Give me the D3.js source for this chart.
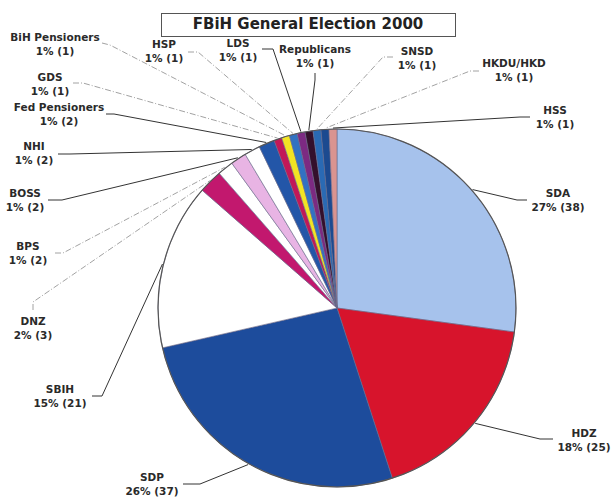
<!DOCTYPE html>
<html><head><meta charset="utf-8">
<script src="https://cdn.jsdelivr.net/npm/d3@7"></script>
<style>body{margin:0;background:#fff}svg{display:block}</style>
</head><body>
<script>
// ---- data ----
const parties = ["SDA","HDZ","SDP","SBIH","DNZ","BPS","BOSS","NHI","Fed Pensioners","GDS","BiH Pensioners","HSP","LDS","Republicans","SNSD","HKDU/HKD","HSS"];
const seats   = [38,25,37,21,3,2,2,2,2,1,1,1,1,1,1,1,1];
const pctLabels = ["27%","18%","26%","15%","2%","1%","1%","1%","1%","1%","1%","1%","1%","1%","1%","1%","1%"];
const colors  = ["#a6c2ec","#d7142c","#1d4c9c","#ffffff","#c2186e","#ffffff","#e8b4e4","#ffffff","#2356a8","#c21858","#f2e424","#3272c2","#7c2a82","#34102c","#2a6ab4","#1c4a90","#da9490"];
const title = "FBiH General Election 2000";

// ---- label layout (text centre x, first line centre y, leader stub start & end) ----
const labelLayout = [
  {tx:558, ty:193, s:[527,200], e:[517,200], faint:false},
  {tx:584, ty:433, s:[553,439], e:[540,439], faint:false},
  {tx:152, ty:477, s:[183,484], e:[200,484], faint:false},
  {tx:60,  ty:389, s:[92,396],  e:[102,396], faint:false},
  {tx:33,  ty:321, s:[33,310],  e:[33,302],  faint:true},
  {tx:28,  ty:246, s:[55,253],  e:[63,253],  faint:true},
  {tx:25,  ty:193, s:[48,200],  e:[62,200],  faint:false},
  {tx:34,  ty:146, s:[58,154],  e:[70,154],  faint:false},
  {tx:59,  ty:107, s:[106,114], e:[114,114], faint:false},
  {tx:50,  ty:77,  s:[73,83],   e:[83,83],   faint:true},
  {tx:55,  ty:37,  s:[102,43],  e:[110,45],  faint:true},
  {tx:164, ty:44,  s:[188,52],  e:[198,52],  faint:true},
  {tx:238, ty:43,  s:[262,49],  e:[273,49],  faint:false},
  {tx:315, ty:49,  s:[315,73],  e:[315,80],  faint:false},
  {tx:417, ty:51,  s:[393,57],  e:[383,57],  faint:true},
  {tx:514, ty:63,  s:[479,71],  e:[470,71],  faint:true},
  {tx:555, ty:110, s:[530,117], e:[520,117], faint:false}
];

const W = 616, H = 498;
const cx = 337, cy = 308, R = 179;
const font = "'DejaVu Sans', Verdana, sans-serif";

const svg = d3.select("body").append("svg").attr("width", W).attr("height", H);

// title box
svg.append("rect").attr("x",161.5).attr("y",13.5).attr("width",294).attr("height",23)
  .attr("fill","#fff").attr("stroke","#555").attr("stroke-width",1);
svg.append("text").attr("x",308).attr("y",29).attr("text-anchor","middle")
  .attr("font-family",font).attr("font-weight","bold").attr("font-size",15)
  .attr("fill","#222").text(title);

const data = parties.map((p,i)=>({party:p, seats:seats[i], pct:pctLabels[i], color:colors[i], lay:labelLayout[i]}));
const pie = d3.pie().value(d=>d.seats).sort(null).startAngle(0).endAngle(2*Math.PI);
const arcs = pie(data);
const arc = d3.arc().innerRadius(0).outerRadius(R);
const edgeArc = d3.arc().innerRadius(R+1).outerRadius(R+1);

const g = svg.append("g").attr("transform",`translate(${cx},${cy})`);
g.selectAll("path.slice").data(arcs).join("path").attr("class","slice")
  .attr("d",arc).attr("fill",d=>d.data.color)
  .attr("stroke","#6a6a8a").attr("stroke-width",0.6);
g.append("circle").attr("r",R).attr("fill","none").attr("stroke","#555").attr("stroke-width",1.2);

// leader lines
const line = d3.line();
svg.selectAll("path.leader").data(arcs).join("path").attr("class","leader")
  .attr("d",d=>{
    const c = edgeArc.centroid(d);
    const L = d.data.lay;
    return line([L.s, L.e, [c[0]+cx, c[1]+cy]]);
  })
  .attr("fill","none")
  .attr("stroke",d=>d.data.lay.faint?"#8a8a8a":"#333")
  .attr("stroke-width",d=>d.data.lay.faint?0.8:1)
  .attr("stroke-dasharray",d=>d.data.lay.faint?"6,2,1,2":null);

// labels
const lab = svg.selectAll("g.lab").data(arcs).join("g").attr("class","lab");
lab.append("text").attr("x",d=>d.data.lay.tx).attr("y",d=>d.data.lay.ty+4)
  .attr("text-anchor","middle").attr("font-family",font).attr("font-weight","bold")
  .attr("font-size",10.5).attr("fill","#2a2a2a").text(d=>d.data.party);
lab.append("text").attr("x",d=>d.data.lay.tx).attr("y",d=>d.data.lay.ty+18)
  .attr("text-anchor","middle").attr("font-family",font).attr("font-weight","bold")
  .attr("font-size",10.5).attr("fill","#2a2a2a").text(d=>`${d.data.pct} (${d.data.seats})`);
</script>
</body></html>
